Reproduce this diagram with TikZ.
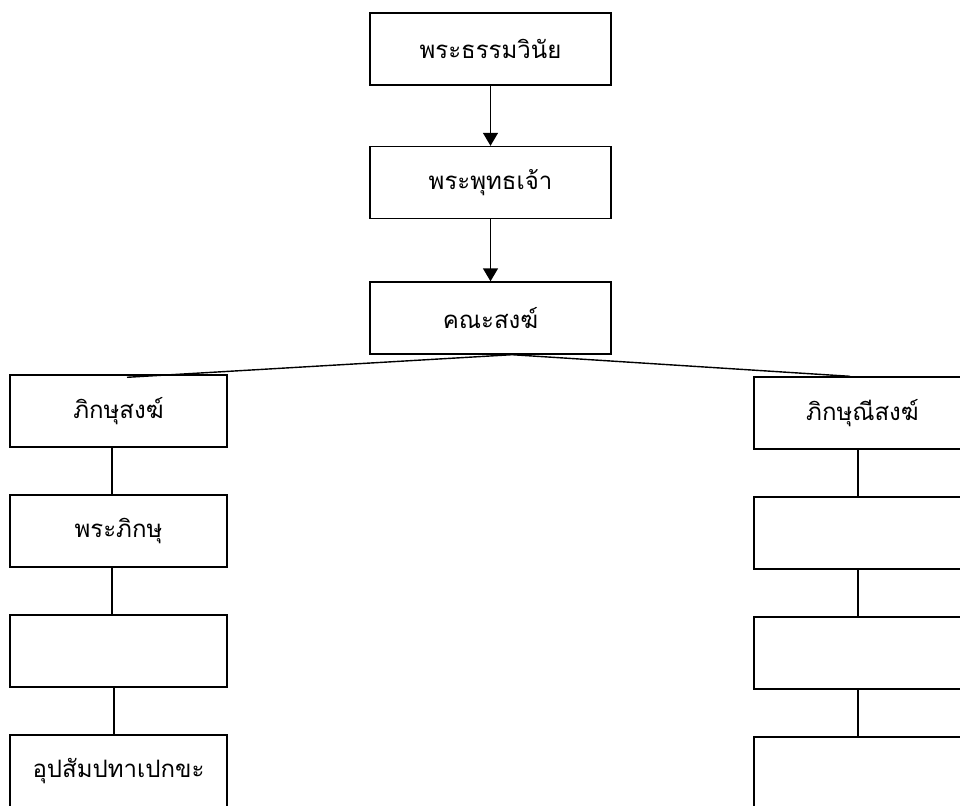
\documentclass[tikz,border=0pt]{standalone}
\usepackage{fontspec}
\newfontfamily\thaifont[Script=Thai]{Loma}
\usetikzlibrary{arrows.meta}
\begin{document}
\begin{tikzpicture}[x=1pt,y=-1pt,
  boxstyle/.style={draw=black, line width=1.4pt, fill=white, minimum width=241pt, minimum height=72pt, inner sep=0pt, font=\thaifont\fontsize{24}{28}\selectfont},
  sidebox/.style={boxstyle, minimum width=217pt},
  arrowline/.style={line width=1.4pt, -{Triangle[width=15pt,length=13pt]}},
  plainline/.style={line width=1.4pt}]
\useasboundingbox (0,0) rectangle (960,805);
\clip (0,0) rectangle (960,805);
\fill[white] (0,0) rectangle (960,805);
\node[boxstyle] (b1) at (490.5,49) {พระธรรมวินัย};
\node[boxstyle] (b2) at (490.5,182.5) {พระพุทธเจ้า};
\node[boxstyle] (b3) at (490.5,318) {คณะสงฆ์};
\node[sidebox] (l1) at (118.5,411) {ภิกษุสงฆ์};
\node[sidebox] (l2) at (118.5,531) {พระภิกษุ};
\node[sidebox] (l3) at (118.5,651) {};
\node[sidebox] (l4) at (118.5,771) {อุปสัมปทาเปกขะ};
\node[sidebox] (r1) at (862.5,413) {ภิกษุณีสงฆ์};
\node[sidebox] (r2) at (862.5,533) {};
\node[sidebox] (r3) at (862.5,653) {};
\node[sidebox] (r4) at (862.5,773) {};
\draw[arrowline] (b1.south) -- (b2.north);
\draw[arrowline] (b2.south) -- (b3.north);
\coordinate (j) at ([xshift=21.5pt]b3.south);
\draw[plainline] ([shift={(8.5pt,-3pt)}]l1.north) -- (j) -- ([xshift=-12.5pt]r1.north);
\draw[plainline] ([xshift=-6.5pt]l1.south) -- ([xshift=-6.5pt]l2.north);
\draw[plainline] ([xshift=-6.5pt]l2.south) -- ([xshift=-6.5pt]l3.north);
\draw[plainline] ([xshift=-4.5pt]l3.south) -- ([xshift=-4.5pt]l4.north);
\draw[plainline] ([xshift=-4.5pt]r1.south) -- ([xshift=-4.5pt]r2.north);
\draw[plainline] ([xshift=-4.5pt]r2.south) -- ([xshift=-4.5pt]r3.north);
\draw[plainline] ([xshift=-4.5pt]r3.south) -- ([xshift=-4.5pt]r4.north);
\end{tikzpicture}
\end{document}
